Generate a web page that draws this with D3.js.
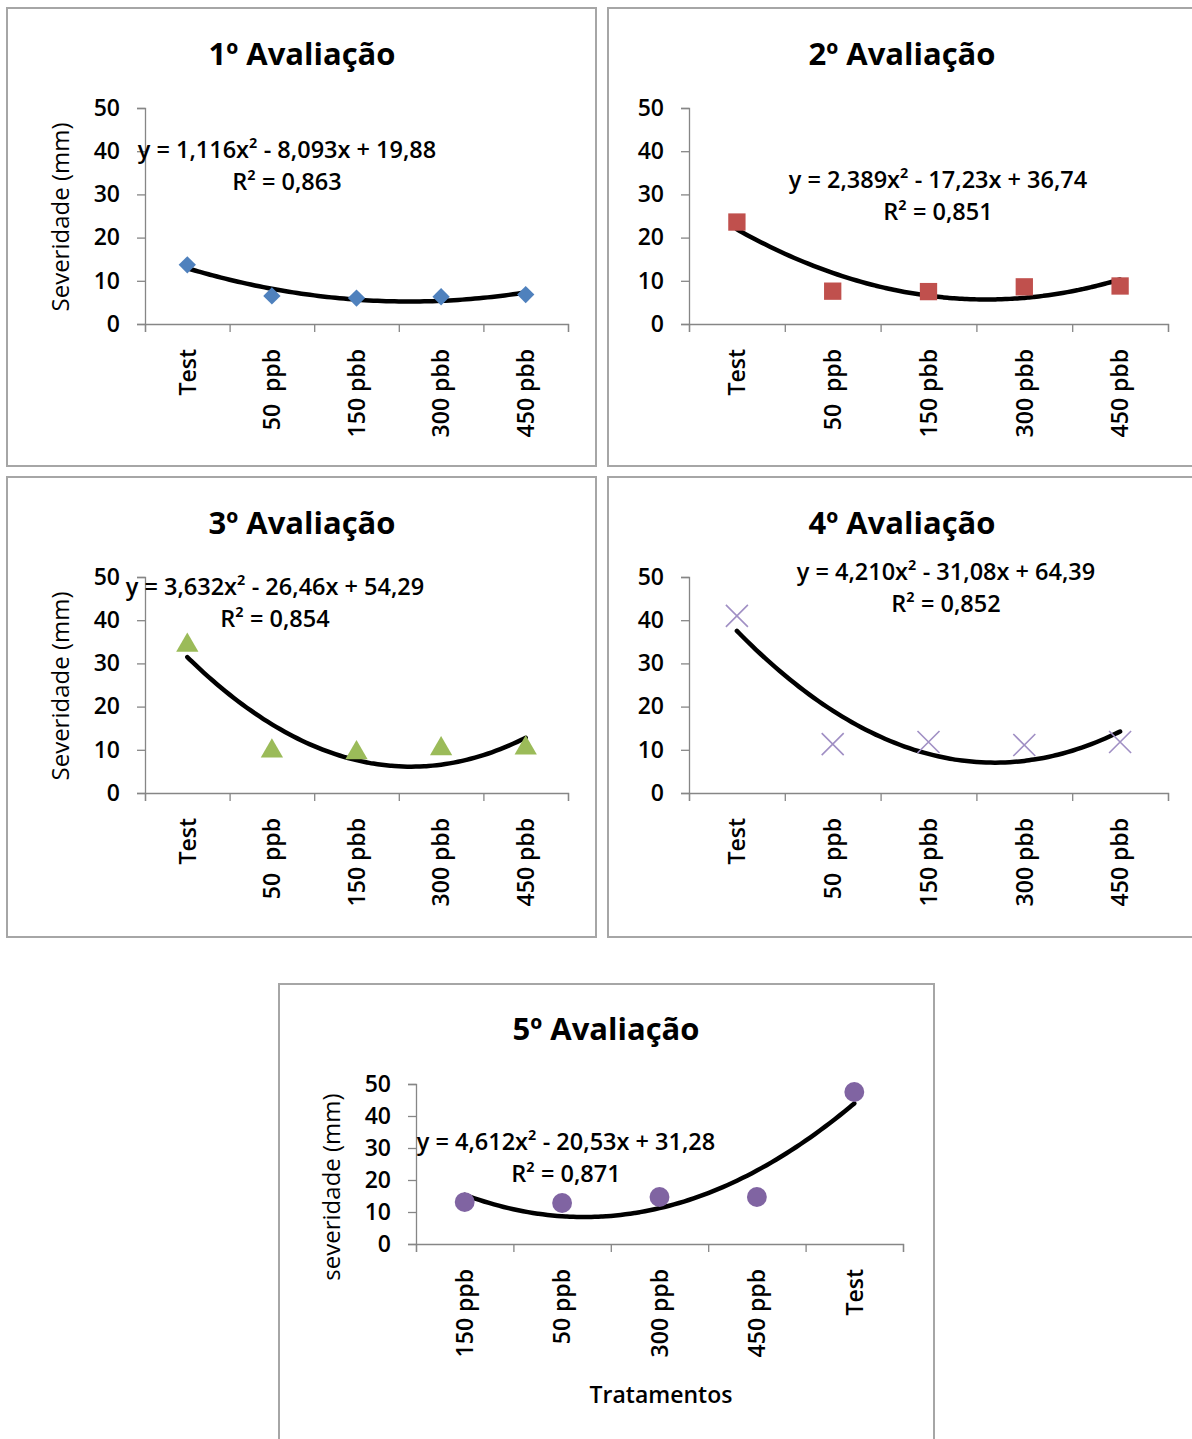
<!DOCTYPE html>
<html><head><meta charset="utf-8">
<script src="https://cdn.jsdelivr.net/npm/d3@7"></script>
<style>
body{margin:0;background:#fff}
svg text{font-family:'Open Sans','Noto Sans',sans-serif;fill:#000}
</style>
</head><body>
<svg id="chart" width="1192" height="1439"></svg>
<script>
// ---------- data ----------
const categoriesA = ["Test", "50  ppb", "150 pbb", "300 pbb", "450 pbb"];
const categoriesE = ["150 ppb", "50 ppb", "300 ppb", "450 ppb", "Test"];
const yTicks = [0, 10, 20, 30, 40, 50];
const titles = ["1º Avaliação", "2º Avaliação", "3º Avaliação", "4º Avaliação", "5º Avaliação"];

const severity1 = [13.7, 6.5, 6.0, 6.3, 6.8];
const severity2 = [23.6, 7.6, 7.5, 8.6, 8.8];
const severity3 = [34.2, 9.7, 9.3, 10.2, 10.4];
const severity4 = [41.0, 11.3, 11.8, 11.1, 11.8];
const severity5 = [13.1, 12.8, 14.7, 14.7, 47.5];

const coef1 = [1.116, -8.093, 19.88];
const coef2 = [2.389, -17.23, 36.74];
const coef3 = [3.632, -26.46, 54.29];
const coef4 = [4.210, -31.08, 64.39];
const coef5 = [4.612, -20.53, 31.28];

const equations = [
  "y = 1,116x² - 8,093x + 19,88",
  "y = 2,389x² - 17,23x + 36,74",
  "y = 3,632x² - 26,46x + 54,29",
  "y = 4,210x² - 31,08x + 64,39",
  "y = 4,612x² - 20,53x + 31,28"
];
const r2Labels = ["R² = 0,863", "R² = 0,851", "R² = 0,854", "R² = 0,852", "R² = 0,871"];

// ---------- layout ----------
const panels = [
  {cats: categoriesA, vals: severity1, coef: coef1, eq: 0, marker: "diamond", color: "#4f81bd",
   box: [7, 8, 596, 466], px: [145, 568], py: [324, 108], title: [302, 65], eqPos: [287, 158, 190],
   ylab: "Severidade (mm)", ylabPos: [60, 217]},
  {cats: categoriesA, vals: severity2, coef: coef2, eq: 1, marker: "square", color: "#c0504d",
   box: [608, 8, 1205, 466], px: [689, 1168], py: [324, 108], title: [902, 65], eqPos: [938, 188, 220]},
  {cats: categoriesA, vals: severity3, coef: coef3, eq: 2, marker: "triangle", color: "#9bbb59",
   box: [7, 477, 596, 937], px: [145, 568], py: [793, 577], title: [302, 534], eqPos: [275, 595, 627],
   ylab: "Severidade (mm)", ylabPos: [60, 686]},
  {cats: categoriesA, vals: severity4, coef: coef4, eq: 3, marker: "x", color: "#a08fc4",
   box: [608, 477, 1205, 937], px: [689, 1168], py: [793, 577], title: [902, 534], eqPos: [946, 580, 612]},
  {cats: categoriesE, vals: severity5, coef: coef5, eq: 4, marker: "circle", color: "#8064a2",
   box: [279, 984, 934, 1460], px: [416, 903], py: [1244, 1084], title: [606, 1040], eqPos: [566, 1150, 1182],
   ylab: "severidade (mm)", ylabPos: [331, 1187], xlab: "Tratamentos", xlabPos: [661, 1403]}
];

const svg = d3.select("#chart");
const AXIS = "#868686";
const FS_TICK = "23px", FS_EQ = "23.5px", FS_LAB = "24px";

panels.forEach((p, i) => {
  const g = svg.append("g");
  // frame
  g.append("rect")
    .attr("x", p.box[0]).attr("y", p.box[1])
    .attr("width", p.box[2] - p.box[0]).attr("height", p.box[3] - p.box[1])
    .attr("fill", "#fff").attr("stroke", "#a6a6a6").attr("stroke-width", 2);

  // title
  g.append("text").attr("x", p.title[0]).attr("y", p.title[1])
    .attr("text-anchor", "middle").style("font-size", "31px").style("font-weight", 700)
    .text(titles[i]);

  const x = d3.scaleBand().domain(p.cats).range(p.px).padding(0);
  const xb = d3.scaleLinear().domain([0, p.cats.length]).range(p.px);
  const y = d3.scaleLinear().domain([0, 50]).range(p.py);

  // y axis
  const ya = g.append("g").attr("transform", `translate(${p.px[0]},0)`)
    .call(d3.axisLeft(y).tickValues(yTicks).tickSize(8).tickPadding(17).tickFormat(d3.format("d")));
  ya.select(".domain").attr("stroke", AXIS).attr("stroke-width", 1.3);
  ya.selectAll(".tick line").attr("stroke", AXIS).attr("stroke-width", 1.3);
  ya.selectAll(".tick text").style("font-size", FS_TICK).style("font-weight", 600)
    .style("font-family", "'Open Sans',sans-serif").attr("fill", "#000");

  // x axis: boundary ticks
  const xa = g.append("g").attr("transform", `translate(0,${p.py[0]})`)
    .call(d3.axisBottom(xb).tickValues(d3.range(p.cats.length + 1)).tickSize(8).tickFormat(""));
  xa.select(".domain").attr("stroke", AXIS).attr("stroke-width", 1.3);
  xa.selectAll(".tick line").attr("stroke", AXIS).attr("stroke-width", 1.3);

  // x category labels (rotated)
  const xl = g.append("g").attr("transform", `translate(0,${p.py[0]})`)
    .call(d3.axisBottom(x).tickSize(0).tickPadding(0));
  xl.select(".domain").remove();
  xl.selectAll(".tick text")
    .attr("transform", "rotate(-90)")
    .attr("x", -25).attr("y", 0).attr("dy", "0.36em")
    .attr("text-anchor", "end")
    .style("white-space", "pre")
    .style("font-size", FS_TICK).style("font-weight", 600)
    .style("font-family", "'Open Sans',sans-serif").attr("fill", "#000");

  // trend line
  const tx = d3.scaleLinear().domain([1, p.cats.length]).range([x(p.cats[0]) + x.bandwidth() / 2, x(p.cats[p.cats.length - 1]) + x.bandwidth() / 2]);
  const pts = d3.range(1, 5.0001, 0.05).map(t => [t, p.coef[0] * t * t + p.coef[1] * t + p.coef[2]]);
  g.append("path").datum(pts)
    .attr("d", d3.line().x(d => tx(d[0])).y(d => y(d[1])).curve(d3.curveCatmullRom))
    .attr("fill", "none").attr("stroke", "#000").attr("stroke-width", 4.5).attr("stroke-linecap", "round");

  // markers
  const cx = d => x(d.c) + x.bandwidth() / 2;
  const data = p.cats.map((c, k) => ({c, v: p.vals[k]}));
  const mg = g.append("g");
  if (p.marker === "diamond") {
    mg.selectAll("path").data(data).join("path")
      .attr("d", d3.symbol(d3.symbolSquare, 150)())
      .attr("transform", d => `translate(${cx(d)},${y(d.v)}) rotate(45)`)
      .attr("fill", p.color);
  } else if (p.marker === "square") {
    mg.selectAll("path").data(data).join("path")
      .attr("d", d3.symbol(d3.symbolSquare, 300)())
      .attr("transform", d => `translate(${cx(d)},${y(d.v)})`)
      .attr("fill", p.color);
  } else if (p.marker === "triangle") {
    mg.selectAll("path").data(data).join("path")
      .attr("d", d3.symbol(d3.symbolTriangle, 215)())
      .attr("transform", d => `translate(${cx(d)},${y(d.v)})`)
      .attr("fill", p.color);
  } else if (p.marker === "circle") {
    mg.selectAll("path").data(data).join("path")
      .attr("d", d3.symbol(d3.symbolCircle, 310)())
      .attr("transform", d => `translate(${cx(d)},${y(d.v)})`)
      .attr("fill", p.color);
  } else if (p.marker === "x") {
    mg.selectAll("path").data(data).join("path")
      .attr("d", "M-11,-11L11,11M-11,11L11,-11")
      .attr("transform", d => `translate(${cx(d)},${y(d.v)})`)
      .attr("fill", "none").attr("stroke", p.color).attr("stroke-width", 1.6);
  }

  // equation + R²
  g.append("text").attr("x", p.eqPos[0]).attr("y", p.eqPos[1]).attr("text-anchor", "middle")
    .style("font-size", FS_EQ).style("font-weight", 600).text(equations[p.eq]);
  g.append("text").attr("x", p.eqPos[0]).attr("y", p.eqPos[2]).attr("text-anchor", "middle")
    .style("font-size", FS_EQ).style("font-weight", 600).text(r2Labels[p.eq]);

  // y label
  if (p.ylab) {
    g.append("text").attr("transform", `translate(${p.ylabPos[0]},${p.ylabPos[1]}) rotate(-90)`)
      .attr("text-anchor", "middle").attr("dy", "0.36em")
      .style("font-size", FS_LAB).style("font-weight", 500).text(p.ylab);
  }
  if (p.xlab) {
    g.append("text").attr("x", p.xlabPos[0]).attr("y", p.xlabPos[1]).attr("text-anchor", "middle")
      .style("font-size", FS_TICK).style("font-weight", 600).text(p.xlab);
  }
});
</script>
</body></html>
